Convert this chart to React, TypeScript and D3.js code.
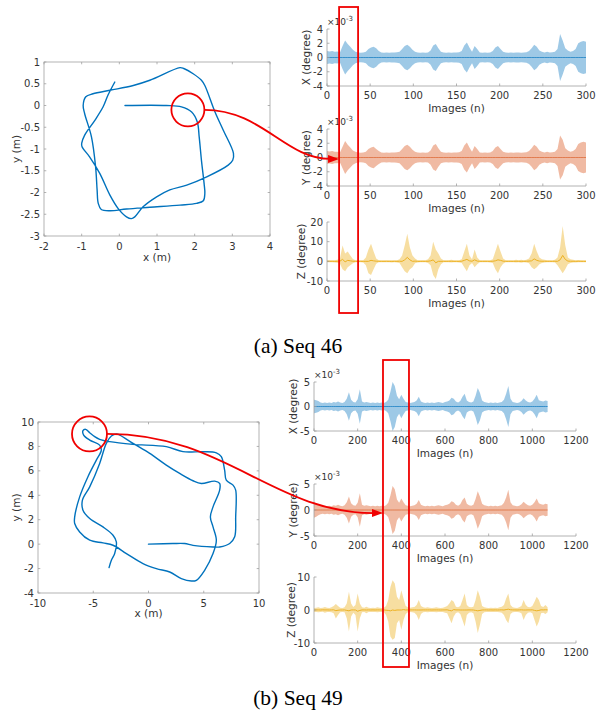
import React from "react";
import * as d3 from "d3";

const FONT = "'DejaVu Sans', sans-serif";
const AX = "#a0a0a0";
const TXT = "#333333";
const RED = "#f00000";

// ---------- Seq 46 trajectory (x, y in metres) ----------
const traj46: number[][] = [
  [0.15, 0], [1.25, 0], [1.65, -0.03], [1.92, -0.15], [2.07, -0.38], [2.12, -0.72], [2.18, -1.26],
  [2.25, -1.79], [2.27, -2.02], [2.23, -2.19], [2.05, -2.25], [1.61, -2.29], [0.81, -2.34], [0.19, -2.38],
  [-0.25, -2.42], [-0.48, -2.39], [-0.56, -2.25], [-0.59, -1.94], [-0.63, -1.41], [-0.74, -0.72],
  [-0.92, -0.19], [-0.96, 0.0], [-0.89, 0.2], [-0.7, 0.27], [-0.25, 0.35], [0.37, 0.46], [0.81, 0.58],
  [1.61, 0.87], [1.71, 0.85], [1.96, 0.73], [2.18, 0.58], [2.27, 0.46], [2.54, -0.15], [2.76, -0.57],
  [3.03, -1.1], [3.01, -1.26], [2.89, -1.37], [2.32, -1.64], [1.79, -1.83], [1.34, -1.94], [0.99, -2.1],
  [0.63, -2.33], [0.41, -2.56], [0.32, -2.6], [0.19, -2.56], [-0.03, -2.37], [-0.25, -2.06], [-0.52, -1.56],
  [-0.79, -1.18], [-0.99, -0.95], [-1.0, -0.87], [-0.92, -0.68], [-0.65, -0.34], [-0.43, -0.03],
  [-0.3, 0.24], [-0.12, 0.54],
];

// ---------- Seq 49 trajectory ----------
const traj49: number[][] = [
  [0, 0], [2.2, 0.05], [3.27, 0.05], [4.03, -0.1], [5.84, -0.23], [6.44, -0.23], [7.35, 0.05], [7.8, 0.6],
  [7.89, 2.23], [7.89, 4.42], [7.65, 4.83], [7.04, 5.24], [6.89, 6.06], [6.59, 7.16], [6.14, 7.48],
  [4.93, 7.57], [3.12, 7.57], [1.61, 7.98], [-1.4, 8.17], [-3.51, 8.39], [-4.42, 8.58], [-4.87, 8.8],
  [-5.32, 9.12], [-5.69, 9.4], [-5.93, 9.29], [-5.87, 8.93], [-5.32, 8.52], [-4.42, 8.11], [-4.27, 7.7],
  [-4.72, 6.88], [-5.48, 5.52], [-6.23, 3.87], [-6.68, 2.23], [-6.68, 1.69], [-6.23, 1.0], [-5.32, 0.32],
  [-4.12, 0.1], [-3.21, -0.09], [-2.0, -0.77], [-0.5, -1.59], [0.71, -2.0], [1.92, -2.28], [2.97, -2.82],
  [3.88, -3.02], [4.33, -2.96], [5.08, -2.14], [5.84, -0.77], [6.14, 0.32], [5.84, 1.41], [5.6, 2.23],
  [5.84, 3.05], [6.44, 4.42], [6.44, 4.97], [5.99, 5.16], [4.78, 4.97], [4.03, 5.19], [2.82, 5.79],
  [1.61, 6.47], [0.11, 7.43], [-1.4, 8.25], [-2.6, 8.93], [-2.9, 9.02], [-3.36, 8.85], [-3.82, 8.25],
  [-4.42, 6.61], [-5.32, 4.69], [-5.98, 3.6], [-5.93, 2.78], [-5.32, 2.1], [-4.12, 1.41], [-3.21, 0.73],
  [-2.91, 0.18], [-3.06, -0.77], [-3.36, -1.32], [-3.57, -1.92],
];

// ---------- Seq 46 uncertainties (one value every 3 images, 0..300) ----------
const step46 = 3;
const x46Amp = [
  0.9, 0.85, 0.9, 0.8, 0.85, 0.7, 1.6, 2.4, 1.9, 1.5,
  1.1, 0.8, 0.7, 0.65, 0.7, 0.8, 1.2, 1.4, 1.5, 1.3,
  0.9, 0.7, 0.65, 0.7, 0.65, 0.7, 0.7, 0.75, 0.8, 1.2,
  1.6, 1.8, 1.5, 1.1, 0.8, 0.7, 0.65, 0.7, 0.65, 0.7,
  1.0, 1.7, 1.9, 1.3, 0.8, 0.7, 0.65, 0.7, 0.65, 0.7,
  0.7, 0.75, 0.9, 1.7, 2.1, 1.4, 0.8, 1.6, 1.2, 0.7,
  0.65, 0.7, 0.65, 0.7, 0.9, 1.4, 1.6, 1.2, 0.8, 0.7,
  0.65, 0.7, 0.65, 0.7, 0.7, 0.65, 0.7, 0.75, 0.9, 1.3,
  1.8, 1.5, 1.0, 0.8, 0.7, 0.8, 0.7, 0.75, 0.8, 1.2,
  3.3, 2.4, 1.3, 1.0, 0.8, 0.9, 1.2, 2.0, 2.2, 2.3, 2.2,
];
const y46Amp = [
  0.9, 0.85, 0.9, 0.8, 0.8, 0.7, 1.5, 2.3, 1.8, 1.4,
  1.0, 0.8, 0.7, 0.65, 0.7, 0.8, 1.2, 1.4, 1.5, 1.2,
  0.9, 0.7, 0.65, 0.7, 0.65, 0.7, 0.7, 0.75, 0.8, 1.2,
  1.6, 1.8, 1.5, 1.1, 0.8, 0.7, 0.65, 0.7, 0.65, 0.7,
  1.0, 1.7, 1.9, 1.3, 0.8, 0.7, 0.65, 0.7, 0.65, 0.7,
  0.7, 0.75, 0.9, 1.7, 2.1, 1.4, 0.8, 1.6, 1.2, 0.7,
  0.65, 0.7, 0.65, 0.7, 0.9, 1.4, 1.6, 1.2, 0.8, 0.7,
  0.65, 0.7, 0.65, 0.7, 0.7, 0.65, 0.7, 0.75, 0.9, 1.3,
  1.8, 1.5, 1.0, 0.8, 0.7, 0.8, 0.7, 0.75, 0.8, 1.2,
  3.1, 2.5, 1.3, 1.0, 0.8, 0.9, 1.2, 1.9, 2.1, 2.2, 2.1,
];
const z46Hi = [
  0.5, 0.5, 0.6, 0.5, 0.8, 1.5, 8, 4, 5, 3,
  1.2, 0.6, 0.5, 0.5, 0.6, 2, 6, 9, 5, 1.5,
  0.6, 0.5, 0.5, 0.6, 0.5, 0.5, 0.6, 0.6, 1, 3,
  8, 14, 7, 3, 1.5, 0.6, 0.5, 0.6, 0.5, 1,
  3, 10, 6, 4, 1.5, 0.6, 0.5, 0.6, 0.8, 0.5,
  0.5, 0.6, 1, 5, 9, 3, 1, 6, 2, 0.6,
  0.5, 0.6, 0.5, 0.6, 1, 5, 9, 5, 1.5, 0.6,
  0.5, 0.6, 0.5, 0.8, 0.6, 0.8, 0.6, 0.8, 1.5, 4,
  9, 5, 2, 1, 0.8, 0.6, 0.6, 0.5, 0.8, 2,
  7, 18, 8, 2, 1, 0.8, 0.6, 0.7, 0.6, 0.5, 0.5,
];
const z46Lo = [
  -0.5, -0.5, -0.5, -0.6, -0.7, -1.2, -4, -5, -3, -2,
  -1, -0.5, -0.5, -0.5, -0.6, -2, -6, -7, -4, -1.2,
  -0.5, -0.5, -0.5, -0.5, -0.5, -0.6, -0.5, -0.6, -0.8, -3,
  -5, -6, -4, -3, -1, -0.6, -0.5, -0.5, -0.5, -0.8,
  -2, -7, -9, -4, -1.5, -0.5, -0.5, -0.5, -0.6, -0.5,
  -0.5, -0.6, -0.8, -3, -5, -2, -0.8, -3, -1.5, -0.5,
  -0.5, -0.5, -0.5, -0.6, -0.8, -4, -6, -3, -1.2, -0.5,
  -0.5, -0.5, -0.5, -0.6, -0.5, -0.7, -0.5, -0.6, -1, -3,
  -4, -3, -1.5, -0.8, -0.6, -0.5, -0.5, -0.5, -0.6, -2,
  -4, -6, -4, -1.5, -0.8, -0.6, -0.6, -0.5, -0.5, -0.5, -0.5,
];

// ---------- Seq 49 uncertainties (one value every 10 images, 0..1070) ----------
const step49 = 10;
const x49Amp = [
  1.4, 1.3, 1.1, 0.8, 0.7, 0.8, 0.7, 0.8, 0.7, 0.9,
  0.8, 1.0, 0.8, 0.7, 0.9, 1.6, 2.9, 1.4, 0.9, 0.8,
  1.5, 3.5, 1.0, 0.8, 0.9, 0.8, 0.7, 0.8, 0.7, 0.8,
  0.7, 0.8, 0.7, 0.9, 1.4, 3.0, 5.0, 4.2, 2.2, 1.5,
  2.4, 1.6, 0.9, 0.8, 0.7, 0.8, 0.9, 1.2, 2.0, 1.0,
  0.8, 0.7, 0.8, 0.7, 0.8, 0.7, 0.8, 0.9, 0.8, 0.7,
  0.9, 1.0, 1.2, 1.8, 1.6, 1.0, 0.8, 1.1, 2.0, 2.6,
  1.2, 0.9, 0.8, 1.0, 2.2, 3.8, 2.8, 1.2, 0.9, 0.8,
  0.7, 0.8, 0.7, 0.8, 0.7, 0.8, 0.9, 1.4, 2.6, 4.2,
  1.6, 0.9, 0.8, 0.7, 0.8, 1.1, 1.7, 1.2, 0.9, 0.8,
  1.0, 1.6, 2.4, 1.3, 1.1, 1.0, 1.2, 1.1,
];
const y49Amp = [
  1.5, 1.3, 1.0, 0.8, 0.7, 0.8, 0.7, 0.8, 0.7, 0.9,
  0.8, 1.0, 0.8, 0.7, 0.9, 1.5, 2.6, 1.3, 0.9, 0.8,
  1.4, 3.2, 1.0, 0.8, 0.9, 0.8, 0.7, 0.8, 0.7, 0.8,
  0.7, 0.8, 0.7, 0.9, 1.4, 2.8, 4.6, 4.0, 2.0, 1.4,
  2.2, 1.5, 0.9, 0.8, 0.7, 0.8, 0.9, 1.2, 1.9, 1.0,
  0.8, 0.7, 0.8, 0.7, 0.8, 0.7, 0.8, 0.9, 0.8, 0.7,
  0.9, 1.0, 1.2, 1.7, 1.5, 1.0, 0.8, 1.1, 1.9, 2.4,
  1.2, 0.9, 0.8, 1.0, 2.1, 3.6, 2.6, 1.2, 0.9, 0.8,
  0.7, 0.8, 0.7, 0.8, 0.7, 0.8, 0.9, 1.4, 2.4, 3.9,
  1.5, 0.9, 0.8, 0.7, 0.8, 1.1, 1.6, 1.2, 0.9, 0.8,
  1.0, 1.5, 2.2, 1.3, 1.1, 1.0, 1.2, 1.1,
];
const z49Hi = [
  0.6, 0.7, 0.8, 0.6, 0.7, 0.9, 0.7, 0.6, 0.8, 1.2,
  1.8, 1.2, 0.7, 0.6, 0.8, 2.0, 5.5, 2.0, 0.9, 1.5,
  5.0, 2.0, 0.8, 0.7, 1.0, 0.7, 0.6, 0.7, 0.6, 0.8,
  0.7, 0.6, 0.7, 1.2, 3.0, 7.0, 9.0, 8.0, 4.0, 3.0,
  6.0, 3.5, 1.2, 0.8, 0.7, 0.8, 0.9, 1.5, 3.0, 1.2,
  0.8, 0.7, 0.8, 0.7, 0.6, 0.7, 0.8, 0.7, 0.6, 0.7,
  0.9, 1.2, 2.0, 3.0, 2.5, 1.0, 0.8, 1.2, 3.0, 5.0,
  1.5, 0.9, 0.8, 1.0, 3.0, 6.0, 4.0, 1.2, 0.8, 0.7,
  0.6, 0.7, 0.6, 0.7, 0.6, 0.8, 1.0, 1.5, 3.5, 5.0,
  1.5, 0.8, 0.7, 0.6, 0.8, 1.2, 3.0, 1.5, 0.9, 0.8,
  1.2, 2.5, 4.0, 3.0, 1.2, 0.9, 1.5, 0.8,
];
const z49Lo = [
  -0.6, -0.6, -0.7, -0.6, -0.5, -0.8, -0.6, -0.6, -0.7, -1.0,
  -2.6, -1.5, -0.7, -0.6, -0.7, -2.5, -6.5, -2.0, -0.8, -1.5,
  -6.5, -2.5, -0.7, -0.6, -1.0, -0.6, -0.6, -0.6, -0.6, -0.7,
  -0.6, -0.6, -0.6, -1.5, -3.5, -8.0, -9.0, -8.5, -4.0, -3.0,
  -6.0, -3.0, -1.2, -0.7, -0.6, -0.7, -0.8, -1.5, -3.0, -1.2,
  -0.7, -0.6, -0.7, -0.6, -0.6, -0.6, -0.7, -0.6, -0.6, -0.6,
  -0.8, -1.0, -2.5, -4.0, -2.0, -0.9, -0.7, -1.2, -3.0, -5.0,
  -1.5, -0.8, -0.7, -1.0, -3.5, -7.0, -4.5, -1.2, -0.7, -0.6,
  -0.6, -0.6, -0.6, -0.6, -0.6, -0.7, -0.8, -1.5, -3.0, -4.0,
  -1.2, -0.7, -0.6, -0.6, -0.7, -1.0, -3.0, -1.5, -0.8, -0.7,
  -1.0, -3.0, -5.0, -3.5, -1.0, -0.8, -1.2, -0.7,
];

// ---------- tick labels ----------
const t46x = [-2, -1, 0, 1, 2, 3, 4];
const t46y = [-3, -2.5, -2, -1.5, -1, -0.5, 0, 0.5, 1];
const t49x = [-10, -5, 0, 5, 10];
const t49y = [-4, -2, 0, 2, 4, 6, 8, 10];
const tImg46 = [0, 50, 100, 150, 200, 250, 300];
const tImg49 = [0, 200, 400, 600, 800, 1000, 1200];
const tXY46 = [-4, -2, 0, 2, 4];
const tZ46 = [-10, 0, 10, 20];
const tXY49 = [-5, 0, 5];
const tZ49 = [-10, 0, 10];

// ---------- annotations (data coordinates) ----------
const circle46 = [1.82, -0.1];
const circle49 = [-5.34, 9.02];
const window46 = [14, 36];
const window49 = [316, 435];
const arrowEnd46 = [14, -0.2];
const arrowEnd49 = [316, -0.6];

type Box = { l: number; r: number; t: number; b: number };

const B46: Box = { l: 44, r: 270, t: 62, b: 236 };
const B49: Box = { l: 38, r: 259, t: 422, b: 593 };
const S46: Box[] = [
  { l: 327, r: 586, t: 29, b: 86 },
  { l: 327, r: 586, t: 129, b: 186 },
  { l: 327, r: 586, t: 222, b: 281 },
];
const S49: Box[] = [
  { l: 314, r: 576, t: 382, b: 431 },
  { l: 314, r: 576, t: 484, b: 536 },
  { l: 314, r: 576, t: 577, b: 643 },
];

const sx = (b: Box, d: number[]) => d3.scaleLinear().domain(d).range([b.l, b.r]);
const sy = (b: Box, d: number[]) => d3.scaleLinear().domain(d).range([b.b, b.t]);

function Traj(p: { box: Box; xd: number[]; yd: number[]; xt: number[]; yt: number[]; pts: number[][]; xlabOff: number }) {
  const { box } = p;
  const x = sx(box, p.xd);
  const y = sy(box, p.yd);
  const line = d3
    .line<number[]>()
    .x((d) => x(d[0]))
    .y((d) => y(d[1]))
    .curve(d3.curveCatmullRom.alpha(0.5));
  const tl = 2.3;
  return (
    <g>
      <rect x={box.l} y={box.t} width={box.r - box.l} height={box.b - box.t} fill="none" stroke={AX} strokeWidth={0.8} />
      {p.xt.map((v) => (
        <g key={"x" + v}>
          <line x1={x(v)} x2={x(v)} y1={box.b} y2={box.b - tl} stroke={AX} strokeWidth={0.8} />
          <line x1={x(v)} x2={x(v)} y1={box.t} y2={box.t + tl} stroke={AX} strokeWidth={0.8} />
          <text x={x(v)} y={box.b + 13.5} textAnchor="middle">{v}</text>
        </g>
      ))}
      {p.yt.map((v) => (
        <g key={"y" + v}>
          <line x1={box.l} x2={box.l + tl} y1={y(v)} y2={y(v)} stroke={AX} strokeWidth={0.8} />
          <line x1={box.r} x2={box.r - tl} y1={y(v)} y2={y(v)} stroke={AX} strokeWidth={0.8} />
          <text x={box.l - 4} y={y(v) + 3.6} textAnchor="end">{v}</text>
        </g>
      ))}
      <path d={line(p.pts) || ""} fill="none" stroke="#0072BD" strokeWidth={1.4} strokeLinejoin="round" strokeLinecap="round" />
      <text x={(box.l + box.r) / 2} y={box.b + p.xlabOff} textAnchor="middle" fontSize={10.5}>x (m)</text>
      <text transform={`translate(${19.5},${(box.t + box.b) / 2}) rotate(-90)`} textAnchor="middle" fontSize={10.5}>y (m)</text>
    </g>
  );
}

function Signal(p: {
  box: Box; xMax: number; xt: number[]; yd: number[]; yt: number[]; step: number;
  hi: number[]; lo: number[]; fill: string; stroke: string; label: string; labelX: number; exp: boolean;
}) {
  const { box } = p;
  const x = sx(box, [0, p.xMax]);
  const y = sy(box, p.yd);
  const idx = p.hi.map((_, i) => i);
  const area = d3
    .area<number>()
    .x((i) => x(i * p.step))
    .y0((i) => y(p.lo[i]))
    .y1((i) => y(p.hi[i]));
  const mean = d3
    .line<number>()
    .x((i) => x(i * p.step))
    .y((i) => y((p.hi[i] + p.lo[i]) / 4));
  const tl = 2.5;
  return (
    <g>
      <path d={area(idx) || ""} fill={p.fill} stroke="none" />
      <path d={mean(idx) || ""} fill="none" stroke={p.stroke} strokeWidth={1} />
      <line x1={box.l} x2={box.l} y1={box.t} y2={box.b} stroke={AX} strokeWidth={0.8} />
      <line x1={box.l} x2={box.r} y1={box.b} y2={box.b} stroke={AX} strokeWidth={0.8} />
      {p.xt.map((v) => (
        <g key={"x" + v}>
          <line x1={x(v)} x2={x(v)} y1={box.b} y2={box.b - tl} stroke={AX} strokeWidth={0.8} />
          <text x={x(v)} y={box.b + 13} textAnchor="middle">{v}</text>
        </g>
      ))}
      {p.yt.map((v) => (
        <g key={"y" + v}>
          <line x1={box.l} x2={box.l + tl} y1={y(v)} y2={y(v)} stroke={AX} strokeWidth={0.8} />
          <text x={box.l - 4} y={y(v) + 3.6} textAnchor="end">{v}</text>
        </g>
      ))}
      {p.exp && (
        <text x={box.l} y={box.t - 4} fontSize={9}>
          ×10<tspan dy={-4} fontSize={7}>-3</tspan>
        </text>
      )}
      <text x={(box.l + box.r) / 2} y={box.b + 25.5} textAnchor="middle" fontSize={10.5}>Images (n)</text>
      <text transform={`translate(${p.labelX + 3.5},${(box.t + box.b) / 2}) rotate(-90)`} textAnchor="middle" fontSize={10.5}>
        {p.label}
      </text>
    </g>
  );
}

const BLUE_F = "rgba(0,114,189,0.38)";
const RED_F = "rgba(217,83,25,0.4)";
const YEL_F = "rgba(237,177,32,0.42)";
const BLUE_L = "rgba(0,114,189,0.65)";
const RED_L = "rgba(217,83,25,0.6)";
const YEL_L = "#EDB120";

function Annot(p: { tb: Box; txd: number[]; tyd: number[]; c: number[]; r: number; sb: Box[]; xMax: number; yd: number[]; win: number[]; end: number[]; top: number; bottom: number }) {
  const tx = sx(p.tb, p.txd);
  const ty = sy(p.tb, p.tyd);
  const cx = tx(p.c[0]);
  const cy = ty(p.c[1]);
  const wx = sx(p.sb[0], [0, p.xMax]);
  const ey = sy(p.sb[1], p.yd);
  const x0 = cx + p.r;
  const x1 = wx(p.end[0]);
  const y1 = ey(p.end[1]);
  const dx = x1 - x0;
  const path = d3.path();
  path.moveTo(x0, cy);
  path.bezierCurveTo(x0 + dx * 0.43, cy, x0 + dx * 0.6, y1, x1 - 9, y1);
  return (
    <g>
      <rect x={wx(p.win[0])} y={p.top} width={wx(p.win[1]) - wx(p.win[0])} height={p.bottom - p.top} fill="none" stroke={RED} strokeWidth={1.8} />
      <circle cx={cx} cy={cy} r={p.r} fill="none" stroke={RED} strokeWidth={1.8} />
      <path d={path.toString()} fill="none" stroke={RED} strokeWidth={1.8} />
      <path d={`M${x1},${y1} L${x1 - 11},${y1 - 4} L${x1 - 11},${y1 + 4} Z`} fill={RED} />
    </g>
  );
}

export default function App() {
  return (
    <svg
      width={596}
      height={710}
      viewBox="0 0 596 710"
      style={{ position: "absolute", left: 0, top: 0, background: "#fff" }}
      fontFamily={FONT}
      fontSize={10}
      fill={TXT}
    >
      <rect x={0} y={0} width={596} height={710} fill="#fff" />
      <Traj box={B46} xd={[-2, 4]} yd={[-3, 1]} xt={t46x} yt={t46y} pts={traj46} xlabOff={25} />
      <Signal box={S46[0]} xMax={300} xt={tImg46} yd={[-4, 4]} yt={tXY46} step={step46} hi={x46Amp} lo={x46Amp.map((v) => -v)} fill={BLUE_F} stroke={BLUE_L} label="X (degree)" labelX={306} exp={true} />
      <Signal box={S46[1]} xMax={300} xt={tImg46} yd={[-4, 4]} yt={tXY46} step={step46} hi={y46Amp} lo={y46Amp.map((v) => -v)} fill={RED_F} stroke={RED_L} label="Y (degree)" labelX={306} exp={true} />
      <Signal box={S46[2]} xMax={300} xt={tImg46} yd={[-10, 20]} yt={tZ46} step={step46} hi={z46Hi} lo={z46Lo} fill={YEL_F} stroke={YEL_L} label="Z (degree)" labelX={301} exp={false} />

      <Traj box={B49} xd={[-10, 10]} yd={[-4, 10]} xt={t49x} yt={t49y} pts={traj49} xlabOff={24} />
      <Signal box={S49[0]} xMax={1200} xt={tImg49} yd={[-5, 5]} yt={tXY49} step={step49} hi={x49Amp} lo={x49Amp.map((v) => -v)} fill={BLUE_F} stroke={BLUE_L} label="X (degree)" labelX={293} exp={true} />
      <Signal box={S49[1]} xMax={1200} xt={tImg49} yd={[-5, 5]} yt={tXY49} step={step49} hi={y49Amp} lo={y49Amp.map((v) => -v)} fill={RED_F} stroke={RED_L} label="Y (degree)" labelX={293} exp={true} />
      <Signal box={S49[2]} xMax={1200} xt={tImg49} yd={[-10, 10]} yt={tZ49} step={step49} hi={z49Hi} lo={z49Lo} fill={YEL_F} stroke={YEL_L} label="Z (degree)" labelX={291} exp={false} />

      <Annot tb={B46} txd={[-2, 4]} tyd={[-3, 1]} c={circle46} r={16.5} sb={S46} xMax={300} yd={[-4, 4]} win={window46} end={arrowEnd46} top={7} bottom={313} />
      <Annot tb={B49} txd={[-10, 10]} tyd={[-4, 10]} c={circle49} r={17.5} sb={S49} xMax={1200} yd={[-5, 5]} win={window49} end={arrowEnd49} top={360} bottom={667} />

      <text x={298} y={353} textAnchor="middle" fontFamily="'Liberation Serif', 'Times New Roman', serif" fontSize={21.5} fill="#000">(a) Seq 46</text>
      <text x={298} y={705} textAnchor="middle" fontFamily="'Liberation Serif', 'Times New Roman', serif" fontSize={21.5} fill="#000">(b) Seq 49</text>
    </svg>
  );
}
